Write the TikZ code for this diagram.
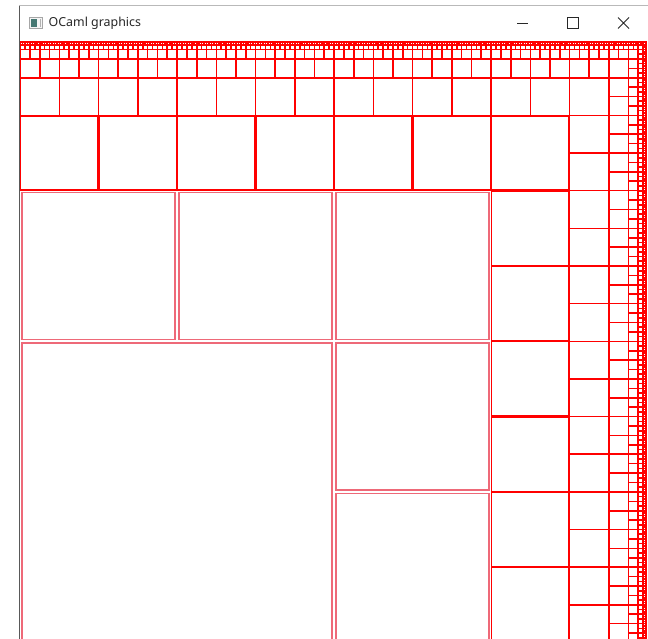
\documentclass[tikz,border=0pt]{standalone}
\usepackage{fontspec}
\setmainfont{Noto Sans}
\definecolor{pinkline}{RGB}{238,105,120}
\definecolor{chrome}{RGB}{40,40,40}
\definecolor{iconteal}{RGB}{70,120,115}
\begin{document}
\begin{tikzpicture}[x=1pt,y=-1pt]
\useasboundingbox (0,0) rectangle (648,639);
\fill[white] (0,0) rectangle (648,639);
% window chrome
\draw[gray!55, line width=1pt] (19,6) -- (648,6);
\draw[black!65, line width=1pt] (19.5,6) -- (19.5,639);
\node[anchor=west, font=\fontsize{12.4}{14}\selectfont, text=black!85, inner sep=0pt] (title) at (48.5,23) {OCaml graphics};
\draw[gray!70, fill=gray!8, line width=0.7pt] (29.5,17.5) rectangle (42.5,28.5);
\fill[iconteal] (31,19) rectangle (36.5,27);
\fill[gray!60] (40,19) rectangle (41,27);
\draw[chrome, line width=0.8pt] (517,23.5) -- (528,23.5);
\draw[chrome, line width=0.8pt] (567.5,17.5) rectangle (578,28);
\draw[chrome, line width=0.8pt] (618,17.5) -- (629,28.5) (629,17.5) -- (618,28.5);
% red square pattern
\begin{scope}
\clip (20,40) rectangle (648,639);
\foreach \k in {1,...,9}{
  \pgfmathsetmacro\sh{628/2^\k}
  \pgfmathsetmacro\sv{602.4/2^\k}
  \pgfmathtruncatemacro\nc{2^\k-2}
  \pgfmathsetmacro\xc{648-2*\sh}
  \ifnum\k<3
    \def\d{1.8}\def\lw{1.5}\def\col{pinkline}
  \else\ifnum\k=3
    \def\d{0.6}\def\lw{1.3}\def\col{red}
  \else
    \def\d{0.3}\def\lw{0.8}\def\col{red}
  \fi\fi
  \foreach \i in {0,...,\nc}{
    \draw[draw=\col, line width=\lw pt] ({\xc+\d},{642.4-(\i+1)*\sv+\d}) rectangle ({\xc+\sh-\d},{642.4-\i*\sv-\d});
  }
  \ifnum\k>1
    \pgfmathtruncatemacro\nr{2^\k-3}
    \foreach \j in {0,...,\nr}{
      \draw[draw=\col, line width=\lw pt] ({20+\j*\sh+\d},{40+\sv+\d}) rectangle ({20+(\j+1)*\sh-\d},{40+2*\sv-\d});
    }
  \fi
}
\end{scope}
\end{tikzpicture}
\end{document}
